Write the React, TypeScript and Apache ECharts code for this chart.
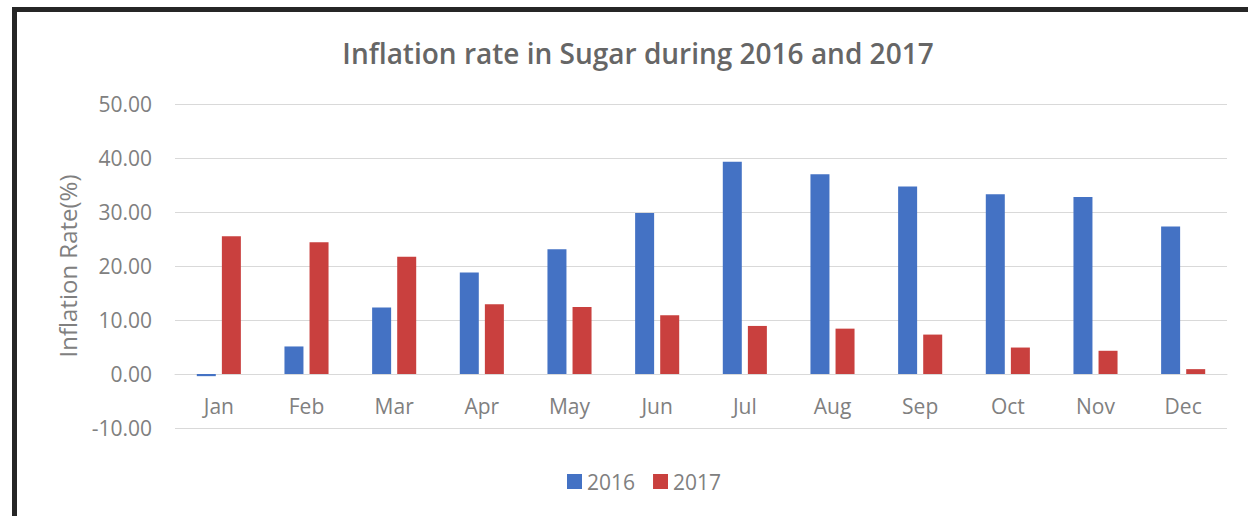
import React, { useEffect, useRef } from "react";
import * as echarts from "echarts";

const months = ["Jan", "Feb", "Mar", "Apr", "May", "Jun", "Jul", "Aug", "Sep", "Oct", "Nov", "Dec"];
const values2016 = [-0.4, 5.1, 12.3, 18.8, 23.1, 29.8, 39.3, 37.0, 34.7, 33.3, 32.8, 27.3];
const values2017 = [25.5, 24.4, 21.7, 12.9, 12.4, 10.9, 8.9, 8.4, 7.3, 4.9, 4.3, 0.9];
const titleText = "Inflation rate in Sugar during 2016 and 2017";
const yAxisName = "Inflation Rate(%)";

const FONT = "'Open Sans', 'Noto Sans', sans-serif";

export default function App() {
  const ref = useRef<HTMLDivElement>(null);
  useEffect(() => {
    if (!ref.current) return;
    const chart = echarts.init(ref.current, null, { renderer: "svg" });
    chart.setOption({
      animation: false,
      backgroundColor: "#ffffff",
      title: {
        text: titleText,
        left: 633,
        top: 34,
        textAlign: "center",
        textStyle: { fontFamily: FONT, fontSize: 28, fontWeight: 600, color: "#666666" },
      },
      legend: {
        data: ["2016", "2017"],
        top: 466,
        left: 562,
        itemWidth: 15,
        itemHeight: 15,
        itemGap: 18,
        icon: "rect",
        textStyle: { fontFamily: FONT, fontSize: 21, color: "#808080" },
      },
      grid: { left: 175, right: 21, top: 104, bottom: 88, containLabel: false },
      xAxis: {
        type: "category",
        data: months,
        position: "bottom",
        offset: -54,
        axisLine: { show: true, onZero: false, lineStyle: { color: "#d9d9d9", width: 1 } },
        axisTick: { show: false },
        axisLabel: { fontFamily: FONT, fontSize: 21, color: "#808080", margin: 21 },
      },
      yAxis: {
        type: "value",
        min: -10,
        max: 50,
        interval: 10,
        name: yAxisName,
        nameLocation: "middle",
        nameGap: 96,
        nameTextStyle: { fontFamily: FONT, fontSize: 24, color: "#808080" },
        axisLine: { show: false },
        axisTick: { show: false },
        splitLine: { lineStyle: { color: "#d9d9d9", width: 1 } },
        axisLabel: {
          fontFamily: FONT,
          fontSize: 21,
          color: "#808080",
          margin: 23,
          formatter: (v: number) => v.toFixed(2),
        },
      },
      series: [
        {
          name: "2016",
          type: "bar",
          data: values2016,
          barWidth: 19,
          barGap: "32%",
          itemStyle: { color: "#4472C4" },
        },
        {
          name: "2017",
          type: "bar",
          data: values2017,
          barWidth: 19,
          itemStyle: { color: "#C9403E" },
        },
      ],
      graphic: [
        {
          type: "rect",
          shape: { x: 14.5, y: 9.5, width: 1400, height: 700 },
          style: { fill: "none", stroke: "#262626", lineWidth: 5 },
          silent: true,
        },
      ],
    });
    return () => chart.dispose();
  }, []);
  return (
    <div
      ref={ref}
      style={{ position: "fixed", left: 0, top: 0, width: 1248, height: 516 }}
    />
  );
}
